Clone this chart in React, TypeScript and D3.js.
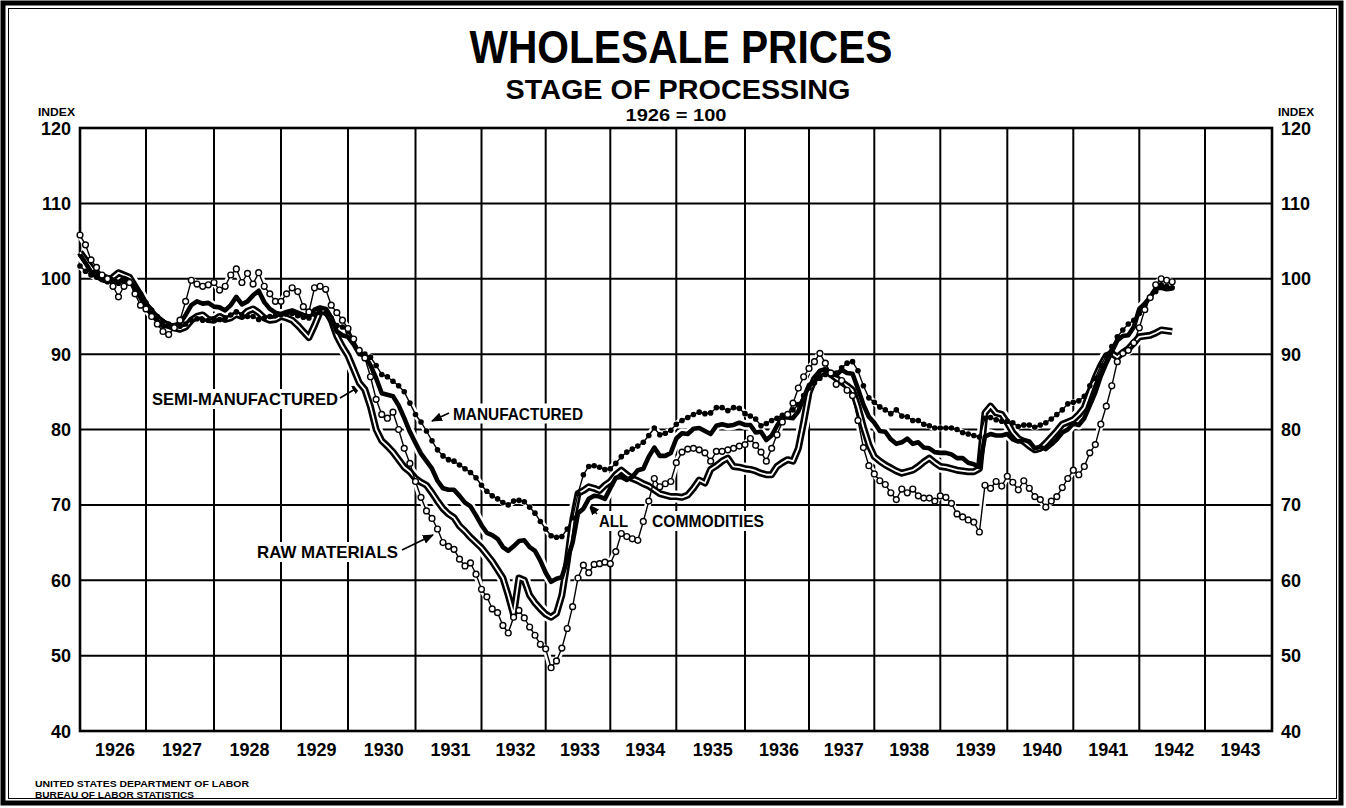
import { useEffect } from "react";
import * as d3 from "d3";

// Monthly index numbers (1926 = 100), January 1926 through July 1942
const rawMaterials = [
  105.8, 104.5, 102.5, 101.5, 100.5, 100.0, 99.0, 97.6, 99.0, 99.5, 98.0, 96.5, // 1926
  96.0, 95.0, 94.0, 93.0, 92.6, 93.5, 94.5, 97.0, 99.8, 99.3, 99.0, 99.2, // 1927
  99.5, 98.5, 99.0, 100.5, 101.3, 99.5, 100.7, 99.3, 100.8, 99.0, 98.0, 97.0, // 1928
  97.0, 98.0, 98.8, 98.3, 96.3, 95.6, 98.8, 99.0, 98.6, 96.5, 95.5, 94.5, // 1929
  93.4, 92.0, 90.5, 89.5, 87.0, 84.0, 82.0, 81.5, 82.3, 80.0, 77.5, 75.5, // 1930
  73.1, 71.0, 69.2, 68.2, 66.8, 65.0, 64.5, 64.1, 62.8, 61.9, 62.3, 60.8, // 1931
  58.8, 57.8, 56.2, 55.7, 54.0, 53.0, 55.1, 56.0, 55.0, 53.8, 52.7, 51.5, // 1932
  50.9, 48.4, 49.3, 51.0, 53.6, 56.5, 60.3, 62.0, 61.0, 62.1, 62.2, 62.4, // 1933
  62.2, 63.8, 66.2, 65.8, 65.5, 65.3, 67.8, 70.5, 73.5, 72.4, 72.8, 73.1, // 1934
  75.6, 77.0, 77.4, 77.5, 77.3, 76.9, 75.8, 77.1, 77.1, 77.3, 77.5, 77.8, // 1935
  78.0, 78.8, 77.9, 77.0, 75.8, 77.5, 79.3, 81.0, 82.0, 83.5, 85.5, 87.0, // 1936
  88.1, 89.0, 90.1, 88.8, 87.5, 86.0, 86.5, 85.2, 84.5, 81.2, 77.6, 75.2, // 1937
  74.1, 73.2, 72.7, 71.6, 70.7, 72.1, 71.6, 72.1, 71.2, 70.9, 70.9, 70.5, // 1938
  71.2, 71.0, 70.2, 68.8, 68.4, 68.0, 67.7, 66.4, 72.6, 72.2, 73.1, 72.5, // 1939
  73.8, 73.0, 72.0, 73.2, 72.2, 71.1, 70.7, 69.7, 70.5, 71.1, 72.3, 73.5, // 1940
  74.6, 74.0, 75.1, 76.9, 78.0, 80.7, 83.1, 85.8, 89.0, 90.1, 90.5, 91.5, // 1941
  93.5, 95.9, 97.5, 99.2, 100.0, 99.8, 99.6, // 1942
];

const semiManufactured = [
  103.5, 102.5, 101.5, 100.5, 100.0, 99.8, 100.2, 100.8, 100.5, 100.2, 99.0, 97.8,
  96.5, 95.5, 94.8, 94.2, 93.8, 93.5, 93.3, 93.6, 94.5, 95.0, 95.2, 94.6,
  94.5, 95.0, 94.6, 94.8, 95.3, 95.0, 95.7, 96.0, 95.5, 94.8, 94.5, 94.6,
  95.0, 94.8, 94.5, 93.8, 93.0, 92.2, 93.8, 95.6, 95.8, 94.5, 92.4, 91.0,
  89.8, 88.0, 86.2, 85.3, 83.0, 80.0, 78.5, 77.8, 77.0, 76.0, 75.0, 74.4,
  73.5, 73.0, 72.6, 71.6, 70.5, 69.5, 68.8, 68.3, 67.2, 66.5, 65.7, 65.0,
  64.3, 63.4, 62.5, 61.4, 60.3, 58.0, 55.4, 60.3, 60.0, 58.0, 57.0, 56.2,
  55.5, 55.1, 55.6, 58.0, 62.5, 67.9, 71.5, 71.9, 72.4, 72.2, 71.9, 72.6,
  73.1, 74.0, 74.6, 74.0, 73.5, 73.2, 72.8, 72.5, 72.0, 71.5, 71.3, 71.1,
  71.1, 71.0, 71.3, 72.2, 73.3, 72.9, 74.7, 75.2, 75.8, 76.2, 75.1, 75.0,
  74.8, 74.7, 74.5, 74.2, 74.0, 74.0, 75.1, 75.6, 76.0, 75.8, 77.5, 81.0,
  84.9, 86.7, 87.5, 87.8, 87.3, 86.8, 86.3, 85.8, 85.2, 83.0, 80.3, 78.0,
  76.4, 75.8, 75.3, 74.9, 74.5, 74.2, 74.4, 74.6, 75.1, 75.7, 76.2, 75.6,
  75.1, 75.0, 74.8, 74.6, 74.5, 74.4, 74.4, 74.8, 82.2, 83.1, 82.2, 82.0,
  80.9, 79.6, 78.8, 78.4, 77.8, 77.3, 77.5, 78.2, 79.0, 79.8, 80.7, 81.0,
  81.3, 82.0, 82.9, 84.9, 86.9, 88.5, 89.8, 90.1, 89.6, 90.2, 90.7, 91.5,
  92.3, 92.4, 92.5, 92.8, 93.2, 93.1, 93.0,
];

const manufactured = [
  101.7, 101.0, 100.5, 100.2, 100.0, 99.6, 99.4, 99.4, 99.6, 99.6, 98.6, 98.0,
  96.8, 95.8, 95.0, 94.3, 94.0, 93.8, 93.7, 94.0, 94.5, 94.7, 94.5, 94.5,
  94.7, 94.6, 94.8, 95.2, 95.6, 95.2, 95.0, 95.0, 94.6, 94.8, 95.0, 95.1,
  95.2, 95.3, 95.4, 95.1, 94.9, 94.8, 95.3, 95.5, 95.4, 94.8, 93.8, 93.6,
  93.0, 91.8, 90.5, 90.0, 89.6, 88.5, 87.3, 87.0, 86.4, 85.8, 85.0, 83.5,
  82.0, 81.0, 79.8, 78.5, 77.3, 76.5, 76.0, 75.8, 75.3, 74.8, 74.3, 73.6,
  72.6, 71.8, 71.2, 70.8, 70.3, 70.0, 70.5, 70.6, 70.4, 69.7, 68.9, 67.8,
  66.8, 65.9, 65.7, 65.8, 66.8, 68.3, 71.5, 74.0, 75.1, 75.2, 75.0, 74.7,
  74.8, 75.5, 76.4, 77.0, 77.4, 77.8, 78.3, 79.2, 80.2, 79.3, 79.5, 79.9,
  80.7, 81.2, 81.6, 82.0, 82.3, 82.1, 82.2, 82.9, 82.9, 82.5, 82.9, 82.8,
  82.1, 81.8, 81.4, 80.5, 80.8, 81.2, 81.5, 81.9, 82.0, 82.6, 83.3, 84.5,
  85.5, 86.2, 86.8, 87.3, 87.4, 87.5, 88.2, 88.8, 89.0, 87.8, 85.8, 84.2,
  83.6, 83.0, 82.6, 82.1, 82.6, 81.8, 81.7, 81.2, 81.2, 80.7, 80.5, 80.2,
  80.2, 80.2, 80.2, 80.0, 79.6, 79.4, 79.2, 79.0, 81.5, 81.6, 81.3, 81.1,
  81.1, 80.9, 80.4, 80.6, 80.6, 80.3, 80.6, 80.9, 81.4, 82.0, 82.6, 83.4,
  83.6, 83.8, 84.4, 85.8, 86.8, 88.5, 89.8, 91.0, 92.3, 93.2, 94.0, 94.5,
  95.4, 96.5, 97.5, 98.3, 99.2, 99.0, 98.8,
];

const allCommodities = [
  103.2, 102.1, 100.9, 100.8, 100.5, 100.2, 99.9, 99.5, 100.1, 99.8, 98.8, 97.8,
  96.6, 95.9, 94.5, 93.7, 93.7, 93.8, 94.1, 95.2, 96.5, 97.0, 96.7, 96.8,
  96.3, 96.2, 95.8, 96.5, 97.6, 96.6, 97.0, 97.8, 98.4, 96.9, 96.0, 95.5,
  95.3, 95.6, 95.8, 95.5, 95.2, 95.0, 95.9, 96.2, 96.0, 94.8, 93.0, 92.5,
  92.3, 91.3, 90.0, 89.8, 88.5, 86.8, 84.8, 84.6, 84.4, 83.2, 81.5, 79.7,
  78.2, 76.8, 75.8, 74.8, 73.2, 72.2, 72.0, 72.0, 71.2, 70.3, 69.8, 68.6,
  67.3, 66.3, 66.0, 65.5, 64.4, 63.9, 64.5, 65.2, 65.3, 64.4, 63.9, 62.6,
  61.0, 59.8, 60.2, 60.4, 62.7, 65.0, 68.9, 69.5, 70.8, 71.2, 71.1, 70.8,
  72.2, 73.6, 73.7, 73.3, 73.7, 74.6, 74.8, 76.4, 77.6, 76.5, 76.5, 76.9,
  78.8, 79.5, 79.4, 80.1, 80.2, 79.8, 79.4, 80.5, 80.7, 80.5, 80.6, 80.9,
  80.6, 80.6, 79.6, 79.7, 78.6, 79.2, 80.5, 81.6, 81.6, 81.5, 82.4, 84.2,
  85.9, 86.3, 87.8, 88.0, 87.4, 87.2, 87.9, 87.5, 87.4, 85.4, 83.3, 81.7,
  80.9, 79.8, 79.7, 78.7, 78.1, 78.3, 78.8, 78.1, 78.3, 77.6, 77.5, 77.0,
  76.9, 76.9, 76.7, 76.2, 76.2, 75.6, 75.4, 75.0, 79.1, 79.4, 79.2, 79.2,
  79.4, 78.7, 78.4, 78.6, 78.4, 77.5, 77.7, 77.4, 78.0, 78.7, 79.6, 80.0,
  80.8, 80.6, 81.5, 83.2, 84.9, 87.1, 88.8, 90.3, 91.8, 92.4, 92.5, 93.6,
  96.0, 96.7, 97.6, 98.7, 98.8, 98.6, 98.7,
];

const yearLabels = [
  "1926", "1927", "1928", "1929", "1930", "1931", "1932", "1933", "1934",
  "1935", "1936", "1937", "1938", "1939", "1940", "1941", "1942", "1943",
];
const indexTicks = [40, 50, 60, 70, 80, 90, 100, 110, 120];

// the original grid was ruled by hand: x of each January line
const yearLines = [
  80, 146, 214, 281, 348, 415.5, 481.5, 545.7, 610.3, 676.3, 745, 809,
  874.3, 940.3, 1007.3, 1073.3, 1139.3, 1205, 1272,
];

const FONT = "'Liberation Sans', Arial, sans-serif";

export default function App() {
  useEffect(() => {
    document.body.style.margin = "0";
  }, []);

  const width = 1346;
  const height = 808;
  const top = 128;
  const bottom = 731;
  const left = yearLines[0];
  const right = yearLines[yearLines.length - 1];

  const x = d3
    .scaleLinear()
    .domain(yearLines.map((_, i) => i * 12))
    .range(yearLines);
  const y = d3.scaleLinear().domain([40, 120]).range([bottom, top]);

  const line = d3
    .line<number>()
    .x((_, i) => x(i))
    .y((d) => y(d));

  const series = [
    { key: "semi", data: semiManufactured, w: 7 },
    { key: "all", data: allCommodities, w: 4.6 },
    { key: "manuf", data: manufactured, w: 1.4 },
    { key: "raw", data: rawMaterials, w: 1.4 },
  ];

  // labels on the chart; a white box masks the grid behind each
  const notes = [
    { text: "SEMI-MANUFACTURED", x: 152, y: 405, len: 186 },
    { text: "MANUFACTURED", x: 453, y: 419.5, len: 130 },
    { text: "RAW MATERIALS", x: 257, y: 558, len: 141 },
    { text: "ALL", x: 599, y: 527, len: 29 },
    { text: "COMMODITIES", x: 652, y: 527, len: 112 },
  ];
  const arrows = [
    [340, 398, 362, 385],
    [449, 413, 432, 421],
    [402, 550, 433, 535],
    [597, 514, 589, 505],
  ];

  return (
    <svg
      width={width}
      height={height}
      style={{ display: "block", background: "#fff" }}
      fontFamily={FONT}
    >
      <defs>
        <marker
          id="head"
          viewBox="0 0 10 10"
          refX="9"
          refY="5"
          markerWidth="7"
          markerHeight="7"
          orient="auto"
        >
          <path d="M0,1 L10,5 L0,9 z" fill="#000" />
        </marker>
      </defs>
      <rect width={width} height={height} fill="#fff" />

      {/* frame */}
      <rect x={3} y={3} width={1338} height={800} fill="none" stroke="#000" strokeWidth={5} />
      <rect x={8.5} y={8.5} width={1328} height={790} fill="none" stroke="#000" strokeWidth={1} />

      {/* titles */}
      <text x={681} y={63} textAnchor="middle" fontSize={47} fontWeight="bold" textLength={423} lengthAdjust="spacingAndGlyphs">
        WHOLESALE PRICES
      </text>
      <text x={678} y={98.5} textAnchor="middle" fontSize={28} fontWeight="bold" textLength={345} lengthAdjust="spacingAndGlyphs">
        STAGE OF PROCESSING
      </text>
      <text x={676} y={120.5} textAnchor="middle" fontSize={17} fontWeight="bold" textLength={101} lengthAdjust="spacingAndGlyphs">
        1926 = 100
      </text>

      {/* grid */}
      <g stroke="#000" strokeWidth={2}>
        {indexTicks.map((t) => (
          <line key={t} x1={left} x2={right} y1={y(t)} y2={y(t)} />
        ))}
        {yearLines.map((gx, i) => (
          <line key={i} x1={gx} x2={gx} y1={top} y2={bottom} />
        ))}
      </g>
      <rect x={left} y={top} width={right - left} height={bottom - top} fill="none" stroke="#000" strokeWidth={2.6} />

      {/* axis labels */}
      <g fontWeight="bold" fontSize={18}>
        {indexTicks.map((t) => (
          <g key={t}>
            <text x={71} y={y(t) + 6.5} textAnchor="end">{t}</text>
            <text x={1281} y={y(t) + 6.5}>{t}</text>
          </g>
        ))}
        {yearLabels.map((lab, i) => (
          <text key={lab} x={(yearLines[i] + yearLines[i + 1]) / 2 + 2} y={756} textAnchor="middle" textLength={40} lengthAdjust="spacingAndGlyphs">
            {lab}
          </text>
        ))}
      </g>
      <text x={38} y={116} fontSize={10} fontWeight="bold" textLength={37} lengthAdjust="spacingAndGlyphs">INDEX</text>
      <text x={1278} y={116} fontSize={10} fontWeight="bold" textLength={36} lengthAdjust="spacingAndGlyphs">INDEX</text>

      {/* annotations */}
      {notes.map((n) => (
        <g key={n.text}>
          <rect x={n.x - 4} y={n.y - 16} width={n.len + 8} height={20} fill="#fff" />
          <text x={n.x} y={n.y} fontSize={17} fontWeight="bold" textLength={n.len} lengthAdjust="spacingAndGlyphs">
            {n.text}
          </text>
        </g>
      ))}
      {arrows.map(([x1, y1, x2, y2], i) => (
        <line key={i} x1={x1} y1={y1} x2={x2} y2={y2} stroke="#000" strokeWidth={1.6} markerEnd="url(#head)" />
      ))}

      {/* white halos cut the grid where the curves cross it */}
      {series.map((s) => (
        <path key={"h" + s.key} d={line(s.data) ?? ""} fill="none" stroke="#fff" strokeWidth={s.w + 5} strokeLinejoin="round" />
      ))}

      {/* semi-manufactured: hollow double line */}
      <path d={line(semiManufactured) ?? ""} fill="none" stroke="#000" strokeWidth={7} strokeLinejoin="round" />
      <path d={line(semiManufactured) ?? ""} fill="none" stroke="#fff" strokeWidth={1.8} strokeLinejoin="round" />

      {/* all commodities: heavy solid */}
      <path d={line(allCommodities) ?? ""} fill="none" stroke="#000" strokeWidth={4.6} strokeLinejoin="round" />

      {/* manufactured: filled dots */}
      <path d={line(manufactured) ?? ""} fill="none" stroke="#000" strokeWidth={1.4} />
      {manufactured.map((v, i) => (
        <circle key={"m" + i} cx={x(i)} cy={y(v)} r={2.8} fill="#000" />
      ))}

      {/* raw materials: open circles */}
      <path d={line(rawMaterials) ?? ""} fill="none" stroke="#000" strokeWidth={1.4} />
      {rawMaterials.map((v, i) => (
        <circle key={"r" + i} cx={x(i)} cy={y(v)} r={2.9} fill="#fff" stroke="#000" strokeWidth={1.4} />
      ))}

      {/* source */}
      <text x={35} y={787} fontSize={9.5} fontWeight="bold" textLength={214} lengthAdjust="spacingAndGlyphs">
        UNITED STATES DEPARTMENT OF LABOR
      </text>
      <text x={35} y={797.5} fontSize={9.5} fontWeight="bold" textLength={159} lengthAdjust="spacingAndGlyphs">
        BUREAU OF LABOR STATISTICS
      </text>
    </svg>
  );
}
